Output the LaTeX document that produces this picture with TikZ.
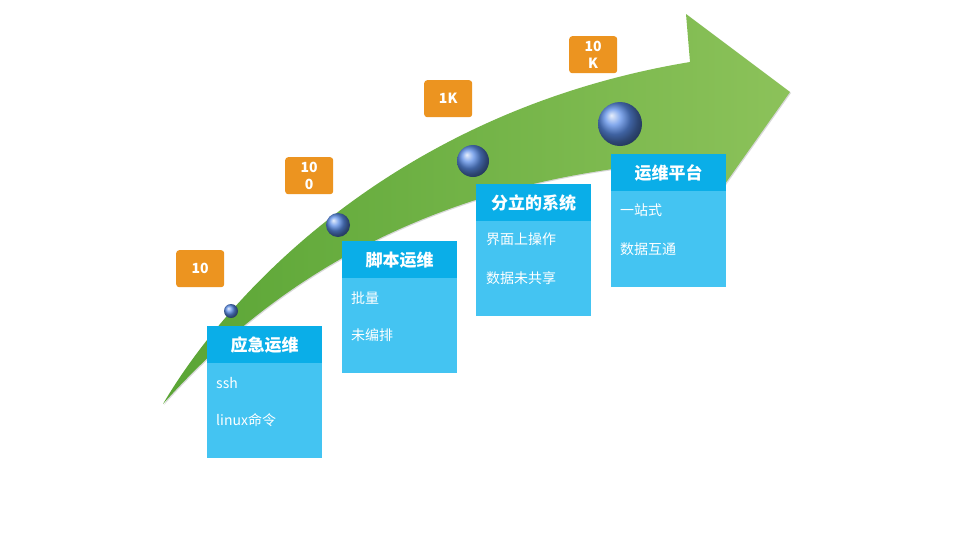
\documentclass[tikz,border=0pt]{standalone}
\usepackage{fontspec}
\setmainfont{Noto Sans CJK SC}
\usetikzlibrary{shadows}
\definecolor{hdr}{HTML}{0AAEE8}
\definecolor{bdy}{HTML}{44C4F2}
\definecolor{org}{HTML}{EC9420}
\definecolor{gdark}{HTML}{5AA535}
\definecolor{glight}{HTML}{8CC25A}
\definecolor{ballc}{HTML}{5A8CE6}
\tikzset{
 hbox/.style={fill=hdr,text=white,font=\bfseries\fontsize{17}{20}\selectfont,minimum width=115pt,minimum height=37pt,inner sep=0pt,anchor=north west},
 bbox/.style={fill=bdy,minimum width=115pt,inner sep=0pt,anchor=north west},
 btxt/.style={text=white,font=\fontsize{14}{17}\selectfont,anchor=west,inner sep=0pt},
 tag/.style={fill=org,rounded corners=3pt,text=white,font=\bfseries\fontsize{14}{17}\selectfont,minimum width=48pt,minimum height=37pt,inner sep=0pt,align=center,anchor=north west},
 ball/.style={circle,ball color=ballc,inner sep=0pt}
}
\begin{document}
\begin{tikzpicture}[x=1pt,y=-1pt]
\useasboundingbox[fill=white] (0,0) rectangle (959,539);
\path[left color=gdark,right color=glight,drop shadow={shadow xshift=1pt,shadow yshift=-1pt,opacity=0.3}]
 (163,404) .. controls (230,290) and (400,110) .. (690,62)
 -- (686,14) -- (790,92) -- (708,208) -- (712,160)
 .. controls (480,170) and (300,250) .. (163,404) -- cycle;
\node[ball,minimum size=14pt] (c1) at (231,311) {};
\node[ball,minimum size=24pt] (c2) at (338,225) {};
\node[ball,minimum size=32pt] (c3) at (473,161) {};
\node[ball,minimum size=44pt] (c4) at (620,124) {};
\node[tag] (t1) at (176,250) {10};
\node[tag] (t2) at (285,157) {10\\0};
\node[tag] (t3) at (424,80) {1K};
\node[tag] (t4) at (569,36) {10\\K};
\node[bbox,minimum height=95pt] (b1) at (207,363) {};
\node[hbox] (h1) at (207,326) {应急运维};
\node[btxt] (b1a) at (216,383) {ssh};
\node[btxt] (b1b) at (216,420) {linux命令};
\node[bbox,minimum height=95pt] (b2) at (342,278) {};
\node[hbox] (h2) at (342,241) {脚本运维};
\node[btxt] (b2a) at (351,298) {批量};
\node[btxt] (b2b) at (351,335) {未编排};
\node[bbox,minimum height=95pt] (b3) at (476,221) {};
\node[hbox] (h3) at (476,184) {分立的系统};
\node[btxt] (b3a) at (486,239) {界面上操作};
\node[btxt] (b3b) at (486,278) {数据未共享};
\node[bbox,minimum height=96pt] (b4) at (611,191) {};
\node[hbox] (h4) at (611,154) {运维平台};
\node[btxt] (b4a) at (620,210) {一站式};
\node[btxt] (b4b) at (620,249) {数据互通};
\end{tikzpicture}
\end{document}
